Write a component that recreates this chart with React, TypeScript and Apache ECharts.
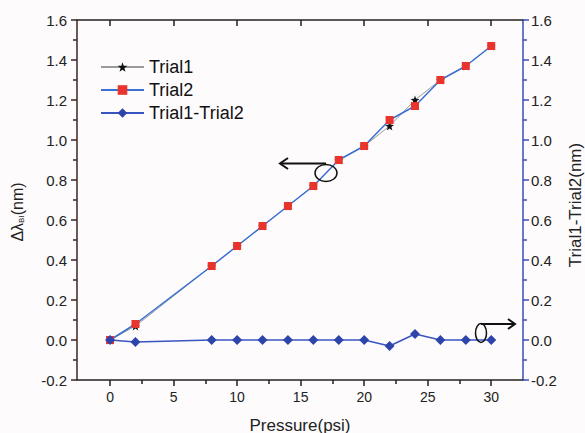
import React, { useEffect, useRef } from "react";
import * as echarts from "echarts";

const pressure = [0, 2, 8, 10, 12, 14, 16, 18, 20, 22, 24, 26, 28, 30];
const trial1 = [0, 0.07, 0.37, 0.47, 0.57, 0.67, 0.77, 0.9, 0.97, 1.07, 1.2, 1.3, 1.37, 1.47];
const trial2 = [0, 0.08, 0.37, 0.47, 0.57, 0.67, 0.77, 0.9, 0.97, 1.1, 1.17, 1.3, 1.37, 1.47];
const diff = [0, -0.01, 0, 0, 0, 0, 0, 0, 0, -0.03, 0.03, 0, 0, 0];
const xMajorTicks = [0, 5, 10, 15, 20, 25, 30];
const xMinorTicks = [2.5, 7.5, 12.5, 17.5, 22.5, 27.5];

const FONT = "'Liberation Sans', Arial, sans-serif";
const STAR =
  "path://M0,-10 L2.35,-3.24 L9.51,-3.09 L3.8,1.24 L5.88,8.09 L0,4 L-5.88,8.09 L-3.8,1.24 L-9.51,-3.09 L-2.35,-3.24 Z";

export default function App() {
  const ref = useRef<HTMLDivElement>(null);
  useEffect(() => {
    if (!ref.current) return;
    const chart = echarts.init(ref.current, null, { renderer: "svg" });
    const pair = (ys: number[]) => pressure.map((x, i) => [x, ys[i]]);
    const xMin = -2.6;
    const xMax = 32.5;
    const labelStyle = { color: "#222", fontSize: 15, fontFamily: FONT };
    chart.setOption({
      animation: false,
      backgroundColor: "#fdfbfc",
      textStyle: { fontFamily: FONT },
      grid: { left: 77, right: 62, top: 20, height: 360 },
      legend: {
        orient: "vertical",
        left: 100,
        top: 58,
        padding: 0,
        itemWidth: 43,
        itemHeight: 12,
        itemGap: 5,
        textStyle: { fontSize: 18, color: "#111", fontFamily: FONT },
        data: ["Trial1", "Trial2", "Trial1-Trial2"],
      },
      xAxis: [
        {
          type: "value",
          min: xMin,
          max: xMax,
          position: "bottom",
          axisLine: { show: true, onZero: false, lineStyle: { color: "#222", width: 1.5 } },
          axisTick: { show: true, inside: false, length: 6, customValues: xMajorTicks, lineStyle: { color: "#222", width: 1.5 } },
          axisLabel: { show: true, margin: 10, customValues: xMajorTicks, ...labelStyle, fontSize: 14 },
          splitLine: { show: false },
        },
        {
          type: "value",
          min: xMin,
          max: xMax,
          position: "bottom",
          axisLine: { show: false, onZero: false },
          axisTick: { show: true, inside: false, length: 4, customValues: xMinorTicks, lineStyle: { color: "#222", width: 1.5 } },
          axisLabel: { show: false, customValues: xMinorTicks },
          splitLine: { show: false },
        },
        {
          type: "value",
          min: xMin,
          max: xMax,
          position: "top",
          axisLine: { show: true, onZero: false, lineStyle: { color: "#222", width: 1.5 } },
          axisTick: { show: true, inside: true, length: 6, customValues: xMajorTicks, lineStyle: { color: "#222", width: 1.5 } },
          axisLabel: { show: false, customValues: xMajorTicks },
          splitLine: { show: false },
        },
      ],
      yAxis: [
        {
          type: "value",
          min: -0.2,
          max: 1.6,
          interval: 0.2,
          position: "left",
          axisLine: { show: true, onZero: false, lineStyle: { color: "#3a2626", width: 1.5 } },
          axisTick: { show: true, inside: false, length: 6, lineStyle: { color: "#3a2626", width: 1.5 } },
          minorTick: { show: true, splitNumber: 2, length: 4, lineStyle: { color: "#3a2626", width: 1.5 } },
          axisLabel: { margin: 10, formatter: (v: number) => v.toFixed(1), ...labelStyle },
          splitLine: { show: false },
        },
        {
          type: "value",
          min: -0.2,
          max: 1.6,
          interval: 0.2,
          position: "right",
          axisLine: { show: true, onZero: false, lineStyle: { color: "#3b4cb8", width: 1.5 } },
          axisTick: { show: true, inside: false, length: 6, lineStyle: { color: "#3b4cb8", width: 1.5 } },
          minorTick: { show: true, splitNumber: 2, length: 4, lineStyle: { color: "#3b4cb8", width: 1.5 } },
          axisLabel: { margin: 8, formatter: (v: number) => v.toFixed(1), ...labelStyle },
          splitLine: { show: false },
        },
      ],
      series: [
        {
          name: "Trial1",
          type: "line",
          data: pair(trial1),
          symbol: STAR,
          symbolSize: 9,
          itemStyle: { color: "#111" },
          lineStyle: { color: "#9a9a9a", width: 1 },
          z: 2,
        },
        {
          name: "Trial2",
          type: "line",
          data: pair(trial2),
          symbol: "rect",
          symbolSize: 8,
          itemStyle: { color: "#e8342c" },
          lineStyle: { color: "#3b70d2", width: 1.5 },
          z: 3,
        },
        {
          name: "Trial1-Trial2",
          type: "line",
          yAxisIndex: 1,
          data: pair(diff),
          symbol: "diamond",
          symbolSize: 10,
          itemStyle: { color: "#2d45aa" },
          lineStyle: { color: "#3b55c0", width: 1.5 },
          z: 4,
        },
      ],
      graphic: [
        {
          type: "text",
          x: 300,
          y: 425,
          style: { text: "Pressure(psi)", fontSize: 17, fill: "#222", font: `17px ${FONT}`, align: "center", verticalAlign: "middle" },
        },
        {
          type: "text",
          x: 17,
          y: 212,
          rotation: Math.PI / 2,
          style: {
            text: "{a|Δλ}{b|BI}{a|(nm)}",
            align: "center",
            verticalAlign: "middle",
            rich: {
              a: { fontSize: 16, fill: "#222", fontFamily: FONT },
              b: { fontSize: 8, fill: "#222", fontFamily: FONT, padding: [8, 0, 0, 0] },
            },
          },
        },
        {
          type: "text",
          x: 575,
          y: 205,
          rotation: Math.PI / 2,
          style: { text: "Trial1-Trial2(nm)", fontSize: 17, fill: "#222", font: `17px ${FONT}`, align: "center", verticalAlign: "middle" },
        },
        // left annotation
        { type: "ellipse", shape: { cx: 326, cy: 173, rx: 11, ry: 8.5 }, style: { fill: "none", stroke: "#111", lineWidth: 1.5 }, z: 10 },
        { type: "line", shape: { x1: 326, y1: 163.5, x2: 280, y2: 163.5 }, style: { stroke: "#111", lineWidth: 2 }, z: 10 },
        { type: "polyline", shape: { points: [[288, 158], [280, 163.5], [288, 169]] }, style: { stroke: "#111", lineWidth: 2, fill: "none" }, z: 10 },
        // right annotation
        { type: "ellipse", shape: { cx: 481, cy: 333, rx: 5.5, ry: 9.5 }, style: { fill: "none", stroke: "#111", lineWidth: 1.5 }, z: 10 },
        { type: "line", shape: { x1: 481, y1: 324, x2: 515, y2: 324 }, style: { stroke: "#111", lineWidth: 2 }, z: 10 },
        { type: "polyline", shape: { points: [[508, 319], [515, 324], [508, 329]] }, style: { stroke: "#111", lineWidth: 2, fill: "none" }, z: 10 },
      ],
    });
    return () => chart.dispose();
  }, []);
  return <div ref={ref} style={{ width: 585, height: 433, position: "fixed", left: 0, top: 0 }} />;
}
